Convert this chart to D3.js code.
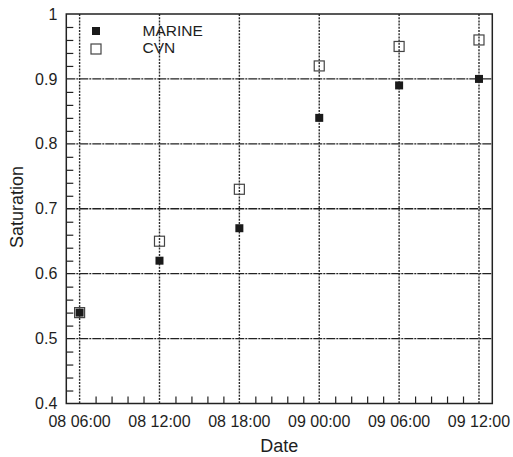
<!DOCTYPE html>
<html>
<head>
<meta charset="utf-8">
<script src="https://cdn.jsdelivr.net/npm/d3@7"></script>
<style>
  html, body { margin: 0; padding: 0; background: #fff; }
  svg { display: block; }
  text { font-family: "Liberation Sans", Arial, sans-serif; fill: #1e1e1e; }
</style>
</head>
<body>
<svg id="chart" width="513" height="457"></svg>
<script>
// Observation times (day hour:minute)
const times = ["08 06:00", "08 12:00", "08 18:00", "09 00:00", "09 06:00", "09 12:00"];
// Saturation per series
const marine = [0.54, 0.62, 0.67, 0.84, 0.89, 0.90];
const cvn    = [0.54, 0.65, 0.73, 0.92, 0.95, 0.96];
// Axis ticks
const xTickLabels = ["08 06:00", "08 12:00", "08 18:00", "09 00:00", "09 06:00", "09 12:00"];
const yTicks = [0.4, 0.5, 0.6, 0.7, 0.8, 0.9, 1];
const xDomainLabels = ["08 05:00", "09 13:00"];

const parse = d3.timeParse("%d %H:%M");
const fmtX = d3.timeFormat("%d %H:%M");

const svg = d3.select("#chart");
const m = { left: 66.3, right: 492.3, top: 14, bottom: 403.5 };

const x = d3.scaleTime().domain(xDomainLabels.map(parse)).range([m.left, m.right]);
const y = d3.scaleLinear().domain([0.4, 1]).range([m.bottom, m.top]);

const xMajor = xTickLabels.map(parse);
const xMinor = [];
xMajor.forEach(t => { for (let k = 1; k < 5; k++) xMinor.push(d3.timeMinute.offset(t, 72 * k)); });
const xMinorIn = xMinor.filter(t => x(t) < m.right);
const yMinor = d3.range(0.42, 1, 0.02).filter(v => Math.abs(v * 10 - Math.round(v * 10)) > 1e-6);

// grid
const grid = svg.append("g");
grid.selectAll("line.h").data(yTicks.filter(v => v > 0.4 && v < 1)).join("line")
  .attr("x1", m.left).attr("x2", m.right)
  .attr("y1", d => y(d)).attr("y2", d => y(d))
  .attr("stroke", "#222").attr("stroke-width", 1.3)
  .attr("stroke-dasharray", "9,1,2,1");
grid.selectAll("line.v").data(xMajor).join("line")
  .attr("x1", d => x(d)).attr("x2", d => x(d))
  .attr("y1", m.top).attr("y2", m.bottom)
  .attr("stroke", "#2a2a2a").attr("stroke-width", 1.4)
  .attr("stroke-dasharray", "2,1.2");

// axes (ticks drawn inward)
const yAxis = d3.axisLeft(y).tickValues(yMinor).tickSize(-7).tickFormat("");
svg.append("g").attr("transform", `translate(${m.left},0)`).call(yAxis)
  .call(g => g.select(".domain").remove())
  .selectAll("line").attr("stroke", "#222").attr("stroke-width", 1.2);

const xAxis = d3.axisBottom(x).tickValues(xMinorIn).tickSize(-7).tickFormat("");
svg.append("g").attr("transform", `translate(0,${m.bottom})`).call(xAxis)
  .call(g => g.select(".domain").remove())
  .selectAll("line").attr("stroke", "#222").attr("stroke-width", 1.2);

// tick labels
svg.append("g").selectAll("text").data(yTicks).join("text")
  .attr("x", m.left - 9).attr("y", d => y(d)).attr("dy", "0.35em")
  .attr("text-anchor", "end").attr("font-size", 16)
  .text(d => d3.format("")(d));
svg.append("g").selectAll("text").data(xMajor).join("text")
  .attr("x", d => x(d)).attr("y", m.bottom + 23)
  .attr("text-anchor", "middle").attr("font-size", 16)
  .text(d => fmtX(d));

// frame
svg.append("rect").attr("x", m.left).attr("y", m.top)
  .attr("width", m.right - m.left).attr("height", m.bottom - m.top)
  .attr("fill", "none").attr("stroke", "#222").attr("stroke-width", 1.5);

// axis titles
svg.append("text").attr("x", (m.left + m.right) / 2).attr("y", 451.5)
  .attr("text-anchor", "middle").attr("font-size", 18).text("Date");
svg.append("text").attr("transform", "translate(22.5,207) rotate(-90)")
  .attr("text-anchor", "middle").attr("font-size", 18).text("Saturation");

// markers
const pts = svg.append("g");
pts.selectAll("rect.cvn").data(times.map((t, i) => [parse(t), cvn[i]])).join("rect")
  .attr("x", d => x(d[0]) - 5).attr("y", d => y(d[1]) - 5)
  .attr("width", 10).attr("height", 10)
  .attr("fill", "none").attr("stroke", "#444").attr("stroke-width", 1.2);
pts.selectAll("rect.marine").data(times.map((t, i) => [parse(t), marine[i]])).join("rect")
  .attr("x", d => x(d[0]) - 4).attr("y", d => y(d[1]) - 4)
  .attr("width", 8).attr("height", 8)
  .attr("fill", "#1a1a1a");

// legend
const lg = svg.append("g");
lg.append("rect").attr("x", 92).attr("y", 27).attr("width", 8).attr("height", 8).attr("fill", "#1a1a1a");
lg.append("rect").attr("x", 91).attr("y", 44).attr("width", 10).attr("height", 10)
  .attr("fill", "none").attr("stroke", "#444").attr("stroke-width", 1.2);
lg.append("text").attr("x", 142.5).attr("y", 35.7).attr("font-size", 15.5).text("MARINE");
lg.append("text").attr("x", 142.5).attr("y", 53.3).attr("font-size", 15.5).text("CVN");
</script>
</body>
</html>
